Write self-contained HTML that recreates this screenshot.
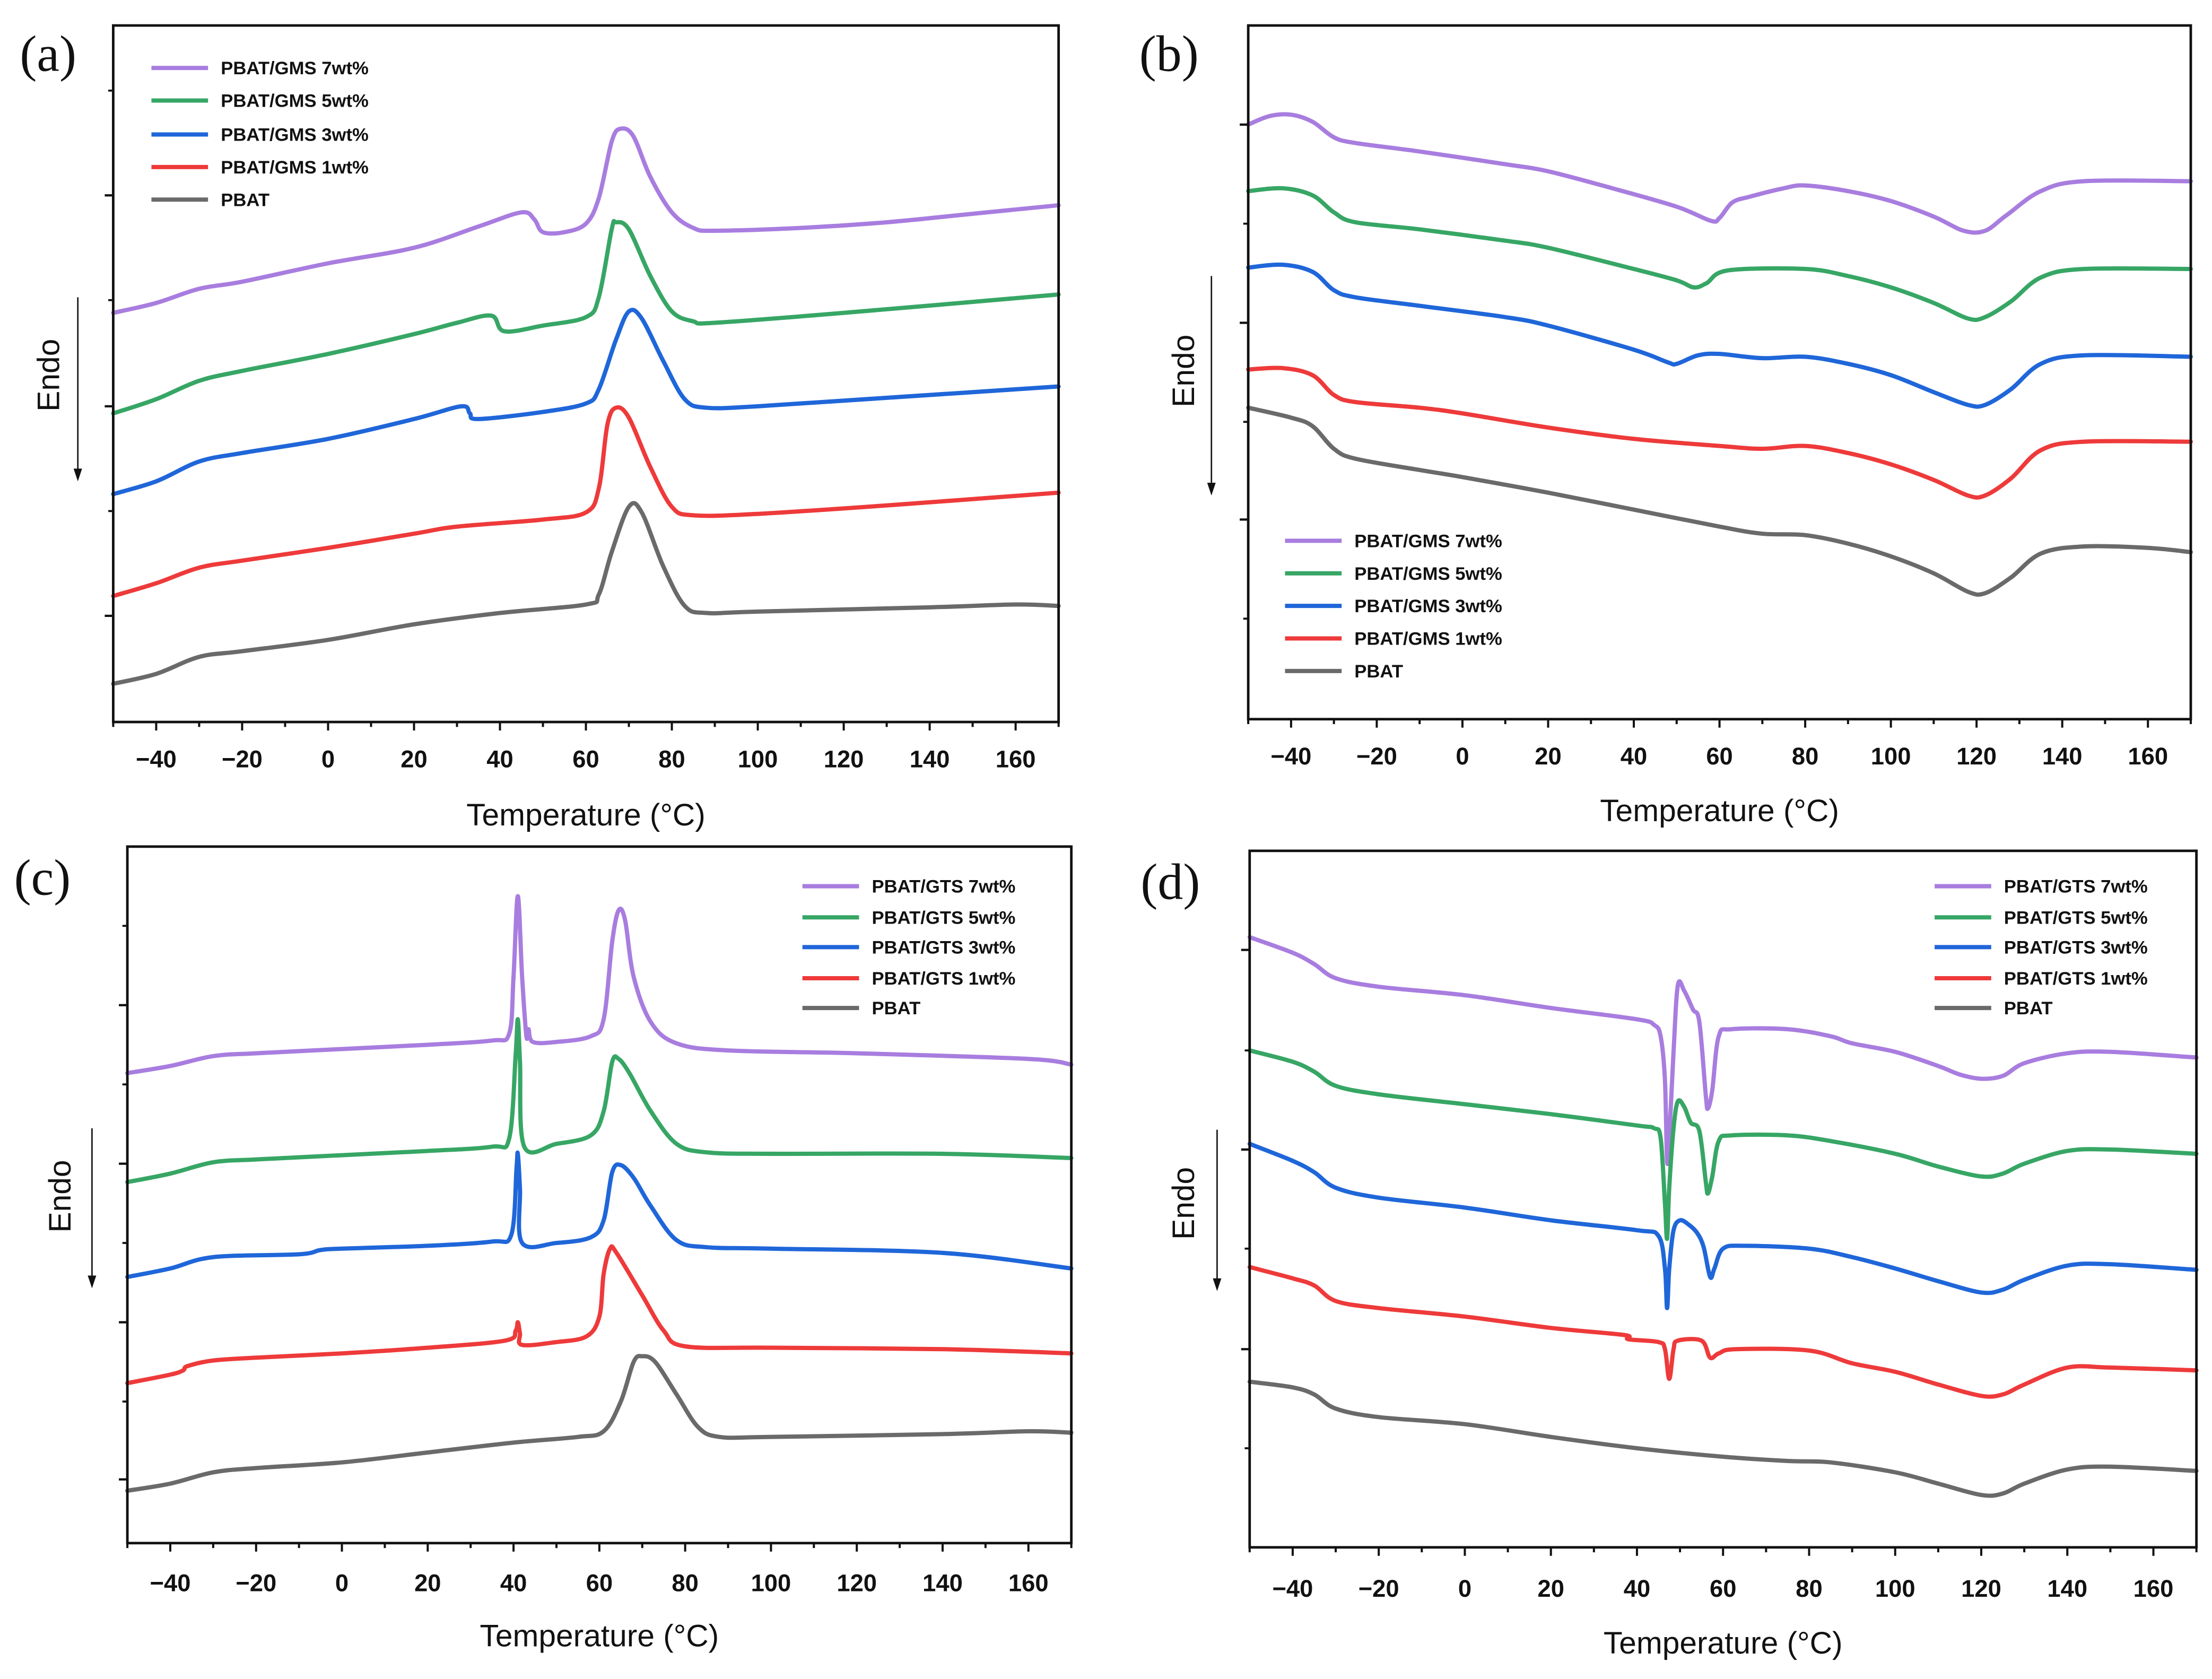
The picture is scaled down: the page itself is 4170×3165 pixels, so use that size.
<!DOCTYPE html>
<html><head><meta charset="utf-8">
<style>
html,body{margin:0;padding:0;background:#fff;}
svg{display:block;}
</style></head>
<body>
<svg id="fig" width="4170" height="3165" viewBox="0 0 1563 1186" preserveAspectRatio="none" xmlns="http://www.w3.org/2000/svg"></svg>
<script>
// ---------- data (heat flow in a.u., offset-stacked; temperature in °C) ----------
const xTicks = [-40,-20,0,20,40,60,80,100,120,140,160];
const seriesNames = ["7wt%","5wt%","3wt%","1wt%","PBAT"];
const colors = ["#a87ddf","#37a665","#1f66d9","#ee3a3a","#6a6a6a"];

// Panel (a) PBAT/GMS
const aT7 = [-50,-40,-30,-20,0,20,35,45,48,50,55,60,63,66,68,71,75,80,85,90,110,130,150,170];
const aV7 = [289,296,306,311,324,335,350,360,355,346,346,352,370,410,419,414,385,360,349,347,349,353,359,365];
const aT5 = [-50,-40,-30,-20,0,20,30,38,41,50,60,63,66,67,70,75,80,85,90,120,170];
const aV5 = [218,228,241,248,260,274,282,287,276,280,286,300,348,353,348,315,290,283,282,289,302];
const aT3 = [-50,-40,-30,-20,0,20,31,33,35,50,60,63,67,70,73,78,83,88,100,130,170];
const aV3 = [161,170,184,190,200,214,223,218,214,219,225,235,270,290,285,255,228,222,223,229,237];
const aT1 = [-50,-40,-30,-20,0,20,30,50,60,63,65,67,70,75,80,85,100,130,170];
const aV1 = [89,98,109,114,123,133,138,143,148,165,210,222,215,180,152,146,147,153,162];
const aT0 = [-50,-40,-30,-20,0,20,40,60,63,66,70,73,78,83,88,100,140,160,170];
const aV0 = [27,34,46,50,58,69,77,83,90,120,152,148,110,82,77,78,81,83,82];

// Panel (b) PBAT/GMS cooling
const bT7 = [-50,-45,-40,-35,-30,-25,-10,10,20,35,50,58,60,63,67,75,80,90,100,110,117,122,127,135,145,170];
const bV7 = [420,426,427,422,411,407,401,392,387,375,362,352,354,365,369,375,377,373,366,355,345,345,356,373,380,380];
const bT5 = [-50,-42,-35,-30,-25,-10,10,20,40,50,54,57,62,80,90,100,110,118,122,128,135,145,170];
const bV5 = [373,375,370,358,351,346,338,333,318,310,305,308,317,318,313,305,294,283,284,295,312,318,318];
const bT3 = [-50,-42,-35,-30,-25,-10,10,20,40,48,50,55,60,70,80,90,100,110,118,122,128,135,145,170];
const bV3 = [319,321,316,303,298,292,284,278,261,252,251,257,258,255,256,251,243,231,222,222,233,251,257,256];
const bT1 = [-50,-42,-35,-30,-25,-10,0,20,40,60,70,80,90,100,110,118,122,128,135,145,170];
const bV1 = [247,248,243,229,224,220,216,206,198,193,191,193,188,180,169,158,158,170,190,196,196];
const bT0 = [-50,-40,-35,-30,-25,-10,0,20,40,60,70,80,90,100,110,118,122,128,135,145,160,170];
const bV0 = [220,213,207,191,184,176,171,160,148,136,131,130,124,115,103,90,89,100,117,122,121,118];

// Panel (c) PBAT/GTS
const cT7 = [-50,-40,-30,-20,0,20,35,39,40,41,42,43,43.5,44.5,50,58,61,63,64.5,66,68,72,78,90,120,160,170];
const cV7 = [332,337,344,346,349,352,355,360,400,457,400,358,363,354,354,358,370,425,447,440,400,368,353,348,346,342,338];
const cT5 = [-50,-40,-30,-20,0,20,35,39,40.5,41,41.5,42.5,50,58,61,63,64.5,67,72,78,85,100,140,170];
const cV5 = [255,261,269,271,274,277,280,286,345,370,340,280,282,288,305,340,342,332,305,282,276,275,275,272];
const cT3 = [-50,-40,-30,-10,-5,0,20,35,39.5,40.7,41,41.5,42,50,58,61,63,65,68,72,78,85,100,140,170];
const cV3 = [188,194,202,204,207,208,210,213,218,265,275,250,212,212,216,228,262,267,258,238,214,209,208,205,194];
const cT1 = [-50,-40,-37,-36,-30,-20,0,20,38,40.5,41,41.5,42,50,57,60,61,62.5,64,70,75,80,100,140,170];
const cV1 = [113,119,122,125,129,131,134,138,143,150,156,148,140,142,146,160,190,208,205,175,150,139,138,137,134];
const cT0 = [-50,-40,-30,-20,0,20,40,55,61,65,68,70,73,78,83,88,100,140,160,170];
const cV0 = [37,42,50,53,57,64,71,75,79,100,128,132,128,105,82,75,75,77,79,78];

// Panel (d) PBAT/GTS cooling
const dT7 = [-50,-40,-35,-30,-20,0,20,40,44,45.5,46.5,47,47.5,48.5,49.5,51,53,54.5,56,56.5,57.5,59,62,75,85,90,100,110,115,120,125,130,140,150,170];
const dV7 = [431,420,412,402,396,390,381,373,369,361,330,273,289,350,397,393,380,371,319,310,323,361,366,366,361,356,350,340,334,331,333,342,349,350,346];
const dT5 = [-50,-40,-35,-30,-20,0,20,40,44,45.5,46.5,47,47.5,48.5,49.5,51,52.5,54.5,56,56.5,57.5,59,62,75,85,100,110,120,125,130,140,150,170];
const dV5 = [351,343,336,326,320,313,306,298,296,289,243,218,254,296,315,311,300,294,258,250,262,287,291,291,287,278,269,262,264,271,280,281,278];
const dT3 = [-50,-40,-35,-30,-20,0,20,40,45,46.5,47,47.5,48.5,50,52,54,55.5,57,58,60,65,80,90,100,110,120,125,130,140,150,170];
const dV3 = [285,273,265,254,247,240,231,224,220,197,169,197,224,231,228,222,212,191,197,211,213,211,205,197,188,180,182,189,199,200,196];
const dT1 = [-50,-40,-35,-30,-20,0,20,37,38,45,46.5,47.5,48.5,49.5,55,57,59,63,80,90,100,110,120,125,130,140,150,170];
const dV1 = [198,190,185,174,169,163,155,150,147,145,140,119,140,146,146,134,137,140,139,130,124,115,107,108,115,127,127,125];
const dT0 = [-50,-40,-35,-30,-20,0,20,40,60,75,85,100,110,120,125,130,140,150,170];
const dV0 = [117,113,108,98,92,87,78,70,64,61,60,53,45,37,38,45,55,57,54];

// ---------- drawing ----------
const NS = "http://www.w3.org/2000/svg";
const svg = document.getElementById('fig');
function mk(tag, attrs, parent){
  const e = document.createElementNS(NS, tag);
  for (const k in attrs) e.setAttribute(k, attrs[k]);
  (parent||svg).appendChild(e);
  return e;
}
function smoothPath(pts){
  let d = "M" + pts[0][0].toFixed(2) + "," + pts[0][1].toFixed(2);
  for (let i=0;i<pts.length-1;i++){
    const p0 = pts[i-1]||pts[i], p1 = pts[i], p2 = pts[i+1], p3 = pts[i+2]||p2;
    const t = 1/6;
    const c1x = p1[0] + (p2[0]-p0[0])*t, c1y = p1[1] + (p2[1]-p0[1])*t;
    const c2x = p2[0] - (p3[0]-p1[0])*t, c2y = p2[1] - (p3[1]-p1[1])*t;
    d += " C" + c1x.toFixed(2)+","+c1y.toFixed(2)+" "+c2x.toFixed(2)+","+c2y.toFixed(2)+" "+p2[0].toFixed(2)+","+p2[1].toFixed(2);
  }
  return d;
}

const panels = [
  {id:"a", L:80, R:748, T:18, B:510, majors:[138,287,435], minors:[64,212,361], tickY:542, titleY:583,
   lab:[14,50], endo:[36,265], arrow:[55,210,340], legX:107, legY:[48,71,95,118,141], mat:"GMS",
   data:[[aT7,aV7],[aT5,aV5],[aT3,aV3],[aT1,aV1],[aT0,aV0]]},
  {id:"b", L:882, R:1548, T:18, B:508, majors:[88,228,367], minors:[158,298,437], tickY:540, titleY:580,
   lab:[805,50], endo:[838,262], arrow:[856,195,350], legX:908, legY:[382,405,428,451,474], mat:"GMS",
   data:[[bT7,bV7],[bT5,bV5],[bT3,bV3],[bT1,bV1],[bT0,bV0]]},
  {id:"c", L:90, R:757, T:598, B:1090, majors:[710,822,934,1045], minors:[654,766,878,990], tickY:1124, titleY:1163,
   lab:[10,632], endo:[44,845], arrow:[65,797,910], legX:567, legY:[626,648,669,691,712], mat:"GTS",
   data:[[cT7,cV7],[cT5,cV5],[cT3,cV3],[cT1,cV1],[cT0,cV0]]},
  {id:"d", L:883, R:1552, T:601, B:1093, majors:[671,812,953], minors:[742,882,1023], tickY:1128, titleY:1168,
   lab:[806,635], endo:[838,850], arrow:[860,798,912], legX:1367, legY:[626,648,669,691,712], mat:"GTS",
   data:[[dT7,dV7],[dT5,dV5],[dT3,dV3],[dT1,dV1],[dT0,dV0]]}
];

panels.forEach(p=>{
  const xs = t => p.L + (t+50)/220*(p.R-p.L);
  const ys = v => p.B - v;
  const g = mk('g',{});
  
  

  p.data.forEach((s,i)=>{
    const pts = s[0].map((t,k)=>[xs(t), ys(s[1][k])]);
    const path = mk('path',{d:smoothPath(pts), fill:'none', stroke:colors[i], 'stroke-width':3, 'stroke-linejoin':'round','stroke-linecap':'round'}, g);
    
    
  });

  const fr = mk('rect',{x:p.L,y:p.T,width:p.R-p.L,height:p.B-p.T,fill:'none',stroke:'#111','stroke-width':1.8}, g);
  
  

  p.majors.forEach(y=>{ const l=mk('line',{x1:p.L-6,x2:p.L,y1:y,y2:y,stroke:'#111','stroke-width':1.6},g);
      });
  p.minors.forEach(y=>{ const l=mk('line',{x1:p.L-3.5,x2:p.L,y1:y,y2:y,stroke:'#111','stroke-width':1.4},g);
      });

  for (let t=-50;t<=170;t+=10){
    const major = (t%20===0);
    const l = mk('line',{x1:xs(t),x2:xs(t),y1:p.B,y2:p.B+(major?6:3.5),stroke:'#111','stroke-width':1.5},g);
    
    
  }
  xTicks.forEach(t=>{
    const tx = mk('text',{x:xs(t), y:p.tickY, 'text-anchor':'middle', 'font-family':'Liberation Sans, sans-serif','font-size':17,'font-weight':'bold',fill:'#111'},g);
    tx.textContent = (t<0?'\u2212'+(-t):String(t));
    
    
  });

  const xt = mk('text',{x:(p.L+p.R)/2, y:p.titleY, 'text-anchor':'middle','font-family':'Liberation Sans, sans-serif','font-size':22,fill:'#111'},g);
  xt.textContent = 'Temperature (\u00B0C)';
  
  

  const pl = mk('text',{x:p.lab[0], y:p.lab[1], 'font-family':'Liberation Serif, serif','font-size':36,fill:'#111'},g);
  pl.textContent = '('+p.id+')';
  
  

  const en = mk('text',{x:p.endo[0], y:p.endo[1], 'text-anchor':'middle','font-family':'Liberation Sans, sans-serif','font-size':22,fill:'#111', transform:'rotate(-90 '+p.endo[0]+' '+p.endo[1]+')', 'dominant-baseline':'middle'},g);
  en.textContent = 'Endo';
  
  
  const ax = p.arrow[0];
  const al = mk('line',{x1:ax,x2:ax,y1:p.arrow[1],y2:p.arrow[2]-7,stroke:'#111','stroke-width':1},g);
  
  
  const ah = mk('polygon',{points:(ax-3)+','+(p.arrow[2]-9)+' '+(ax+3)+','+(p.arrow[2]-9)+' '+ax+','+p.arrow[2], fill:'#111'},g);
  
  

  const lg = mk('g',{},g);
  
  
  seriesNames.forEach((n,i)=>{
    const y = p.legY[i];
    const e = mk('g',{},lg);
    
    
    mk('line',{x1:p.legX,x2:p.legX+40,y1:y,y2:y,stroke:colors[i],'stroke-width':3},e);
    const tx = mk('text',{x:p.legX+49, y:y+4.5,'font-family':'Liberation Sans, sans-serif','font-size':13,'font-weight':'bold',fill:'#111'},e);
    tx.textContent = i<4 ? 'PBAT/'+p.mat+' '+n : 'PBAT';
  });
});
</script>
</body></html>
